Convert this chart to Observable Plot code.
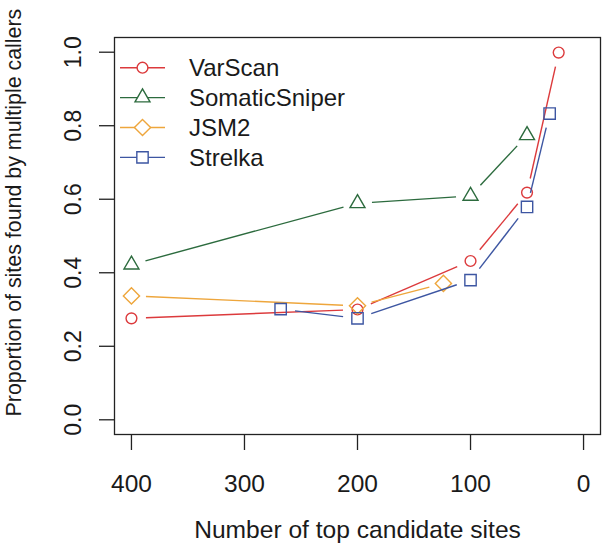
<!DOCTYPE html>
<html><head><meta charset="utf-8">
<script src="https://cdn.jsdelivr.net/npm/d3@7"></script>
<script src="https://cdn.jsdelivr.net/npm/@observablehq/plot@0.6"></script>
<style>body{margin:0;background:#fff} svg{display:block}</style>
</head><body><div id="chart"></div>
<script>
const seriesNames = ["VarScan", "SomaticSniper", "JSM2", "Strelka"];
const seriesColors = ["#dc3a3c", "#2c6b3e", "#eea63c", "#3d56a2"];
const varscanX = [400, 200, 100, 50, 22];
const varscanY = [0.276, 0.300, 0.432, 0.618, 0.999];
const sniperX = [400, 200, 100, 50];
const sniperY = [0.422, 0.589, 0.609, 0.774];
const jsm2X = [400, 200, 124];
const jsm2Y = [0.337, 0.310, 0.371];
const strelkaX = [268, 200, 100, 50, 30];
const strelkaY = [0.301, 0.276, 0.380, 0.579, 0.833];
const xTicks = [400, 300, 200, 100, 0];
const yTicks = [0, 0.2, 0.4, 0.6, 0.8, 1.0];

const symCircle = {draw(c, s) {const r = Math.sqrt(s / Math.PI); c.moveTo(r, 0); c.arc(0, 0, r, 0, 2 * Math.PI);}};
const symTriangle = {draw(c, s) {const r = Math.sqrt(s / Math.PI); const R = 1.6 * r; const h = R * Math.sqrt(3) / 2; c.moveTo(0, -R); c.lineTo(h, R / 2); c.lineTo(-h, R / 2); c.closePath();}};
const symDiamond = {draw(c, s) {const r = Math.sqrt(s / Math.PI); const a = 1.5 * r; c.moveTo(0, -a); c.lineTo(a, 0); c.lineTo(0, a); c.lineTo(-a, 0); c.closePath();}};
const symSquare = {draw(c, s) {const r = Math.sqrt(s / Math.PI); const a = 1.05 * r; c.moveTo(-a, -a); c.lineTo(a, -a); c.lineTo(a, a); c.lineTo(-a, a); c.closePath();}};
const symbols = [symCircle, symTriangle, symDiamond, symSquare];

const W = 602, H = 554, ML = 114, MR = 2, MT = 37, MB = 120;
const xDomain = [415, -15], yDomain = [-0.04, 1.04];
const xs = Plot.scale({x: {domain: xDomain, range: [ML, W - MR]}});
const ys = Plot.scale({y: {domain: yDomain, range: [H - MB, MT]}});
const GAP = 14.5;

const series = [[varscanX, varscanY], [sniperX, sniperY], [jsm2X, jsm2Y], [strelkaX, strelkaY]].map(([X, Y], i) => ({
  name: seriesNames[i], color: seriesColors[i], symbol: symbols[i],
  points: X.map((x, j) => ({x, y: Y[j]}))
}));

function segments(points) {
  const out = [];
  for (let j = 0; j < points.length - 1; j++) {
    const a = points[j], b = points[j + 1];
    const ax = xs.apply(a.x), ay = ys.apply(a.y), bx = xs.apply(b.x), by = ys.apply(b.y);
    const d = Math.hypot(bx - ax, by - ay);
    if (d <= 2 * GAP) continue;
    const ux = (bx - ax) / d, uy = (by - ay) / d;
    out.push({
      x1: xs.invert(ax + ux * GAP), y1: ys.invert(ay + uy * GAP),
      x2: xs.invert(bx - ux * GAP), y2: ys.invert(by - uy * GAP)
    });
  }
  return out;
}

const marks = [
  Plot.frame({stroke: "#222", strokeWidth: 1.3}),
  Plot.axisX({ticks: xTicks, tickSize: 16, tickPadding: 24, label: null, tickFormat: d => String(d), fontSize: 24.5, strokeWidth: 1.3, stroke: "#222"}),
  Plot.axisY({ticks: yTicks, tickSize: 15, tickPadding: 19, tickRotate: -90, label: null, tickFormat: d3.format(".1f"), fontSize: 23, strokeWidth: 1.3, stroke: "#222"}),
  Plot.text(["Proportion of sites found by multiple callers"], {text: d => d, frameAnchor: "bottom-left", dx: -94, dy: -18, rotate: -90, textAnchor: "start", lineAnchor: "bottom", fontSize: 21.4, fill: "#1a1a1a"}),
  Plot.text(["Number of top candidate sites"], {text: d => d, frameAnchor: "bottom", dy: 103, lineAnchor: "bottom", fontSize: 24.6, fill: "#1a1a1a"})
];
for (const s of series) {
  marks.push(Plot.link(segments(s.points), {x1: "x1", y1: "y1", x2: "x2", y2: "y2", stroke: s.color, strokeWidth: 1.4}));
  marks.push(Plot.dot(s.points, {x: "x", y: "y", symbol: s.symbol, r: 5.4, stroke: s.color, fill: "none", strokeWidth: 1.4}));
}

const chart = Plot.plot({
  width: W, height: H, marginLeft: ML, marginRight: MR, marginTop: MT, marginBottom: MB,
  x: {domain: xDomain}, y: {domain: yDomain},
  style: {fontFamily: "'Liberation Sans', Arial, Helvetica, sans-serif", fontSize: "24px", background: "#fff", color: "#1a1a1a", overflow: "visible"},
  marks
});

// legend
const lg = d3.select(chart).append("g")
  .attr("font-family", "'Liberation Sans', Arial, sans-serif").attr("font-size", 24).attr("text-anchor", "start");
series.forEach((s, i) => {
  const cy = 67.7 + 29.9 * i;
  const row = lg.append("g").attr("transform", `translate(0,${cy})`);
  row.append("line").attr("x1", 120).attr("x2", 165).attr("stroke", s.color).attr("stroke-width", 1.4);
  row.append("path").attr("d", d3.symbol(s.symbol, Math.PI * 5.4 * 5.4)()).attr("transform", "translate(142.5,0)")
    .attr("fill", "white").attr("stroke", s.color).attr("stroke-width", 1.4);
  row.append("text").attr("x", 189).attr("y", 8.6).attr("text-anchor", "start").attr("fill", "#1a1a1a").text(s.name);
});

document.getElementById("chart").appendChild(chart);
</script>
</body></html>
